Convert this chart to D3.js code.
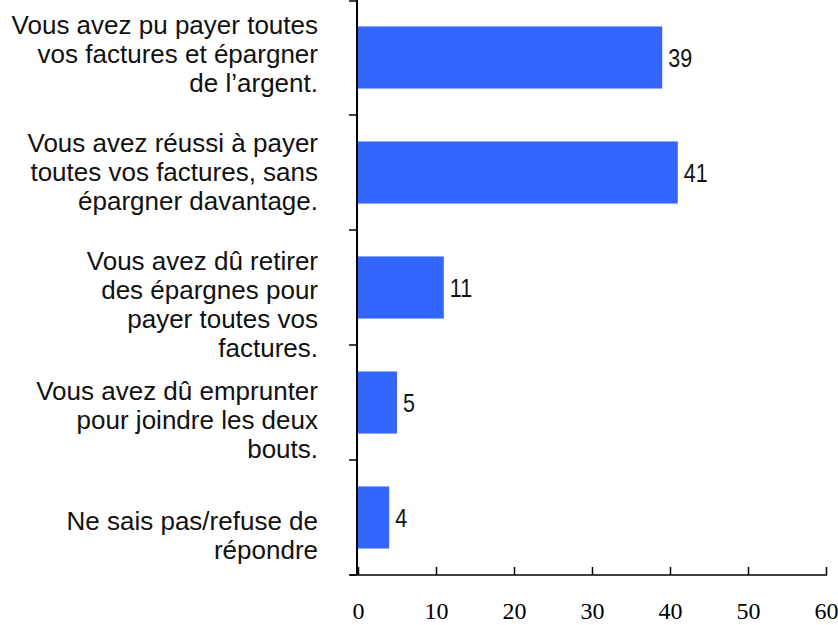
<!DOCTYPE html>
<html>
<head>
<meta charset="utf-8">
<script src="https://cdn.jsdelivr.net/npm/d3@7"></script>
<style>
  body { margin: 0; background: #fff; }
</style>
</head>
<body>
<div id="chart"></div>
<script>
var categories = [
    ["Vous avez pu payer toutes", "vos factures et épargner", "de l\u2019argent."],
    ["Vous avez réussi à payer", "toutes vos factures, sans", "épargner davantage."],
    ["Vous avez dû retirer", "des épargnes pour", "payer toutes vos", "factures."],
    ["Vous avez dû emprunter", "pour joindre les deux", "bouts."],
    ["Ne sais pas/refuse de", "répondre"]
];
var values = [39, 41, 11, 5, 4];
var xTicks = [0, 10, 20, 30, 40, 50, 60];

// label block offsets from bar centre (the original labels sit a bit low)
var labelShift = [5, 8, 26, 26, 27];

function init() {
    var w = 838;
    var h = 625;
    var lineH = 29;

    var svg = d3.select("#chart")
        .append("svg")
        .attr("width", w)
        .attr("height", h);

    var yScale = d3.scaleBand()
        .domain(d3.range(categories.length))
        .range([0, 575])
        .paddingInner(0.46)
        .paddingOuter(0.23);

    var xScale = d3.scaleLinear()
        .domain([0, 60])
        .range([358, 826]);

    // bars
    svg.selectAll("rect.bar")
        .data(values)
        .enter()
        .append("rect")
        .attr("class", "bar")
        .attr("x", xScale(0))
        .attr("y", function(d, i) { return yScale(i); })
        .attr("width", function(d) { return xScale(d) - xScale(0); })
        .attr("height", yScale.bandwidth())
        .style("fill", "#3366ff");

    // value labels
    svg.selectAll("text.val")
        .data(values)
        .enter()
        .append("text")
        .attr("class", "val")
        .attr("transform", function(d, i) {
            var x = xScale(d) + 6;
            var y = yScale(i) + yScale.bandwidth() / 2 + 9;
            return "translate(" + x + "," + y + ") scale(0.86,1)";
        })
        .style("font-family", "'Liberation Sans', Arial, sans-serif")
        .style("font-size", "25px")
        .style("fill", "#111")
        .text(function(d) { return d; });

    // category labels
    var labels = svg.selectAll("text.cat")
        .data(categories)
        .enter()
        .append("text")
        .attr("class", "cat")
        .attr("text-anchor", "end")
        .style("font-family", "'Liberation Sans', Arial, sans-serif")
        .style("font-size", "26px")
        .style("fill", "#111");

    labels.each(function(lines, i) {
        var mid = yScale(i) + yScale.bandwidth() / 2 + labelShift[i];
        var first = mid - (lines.length - 1) * lineH / 2;
        d3.select(this).selectAll("tspan")
            .data(lines)
            .enter()
            .append("tspan")
            .attr("x", 318)
            .attr("y", function(d, j) { return first + j * lineH; })
            .text(function(d) { return d; });
    });

    // y axis line and ticks at band edges
    svg.append("line")
        .attr("x1", xScale(0) - 1).attr("x2", xScale(0) - 1)
        .attr("y1", 0).attr("y2", 575)
        .style("stroke", "#000")
        .style("stroke-width", 2);

    var step = yScale.step();
    svg.selectAll("line.ytick")
        .data(d3.range(categories.length + 1))
        .enter()
        .append("line")
        .attr("class", "ytick")
        .attr("x1", xScale(0) - 9).attr("x2", xScale(0) - 1)
        .attr("y1", function(d) { return Math.max(1, d * step); })
        .attr("y2", function(d) { return Math.max(1, d * step); })
        .style("stroke", "#000")
        .style("stroke-width", 1.5);

    // x axis
    svg.append("line")
        .attr("x1", 350).attr("x2", xScale(60) + 1)
        .attr("y1", 575).attr("y2", 575)
        .style("stroke", "#000")
        .style("stroke-width", 1.5);

    var xAxis = d3.axisBottom(xScale)
        .tickValues(xTicks)
        .tickSizeInner(-8)
        .tickSizeOuter(0);

    var gx = svg.append("g")
        .attr("transform", "translate(0,575)")
        .call(xAxis);

    gx.select(".domain").remove();
    gx.selectAll(".tick line")
        .style("stroke", "#000")
        .style("stroke-width", 1.5);
    gx.selectAll(".tick text")
        .attr("y", 44)
        .attr("dy", null)
        .style("font-family", "'Liberation Serif', 'Times New Roman', serif")
        .style("font-size", "24px")
        .style("fill", "#000");
}

window.onload = init;
</script>
</body>
</html>
